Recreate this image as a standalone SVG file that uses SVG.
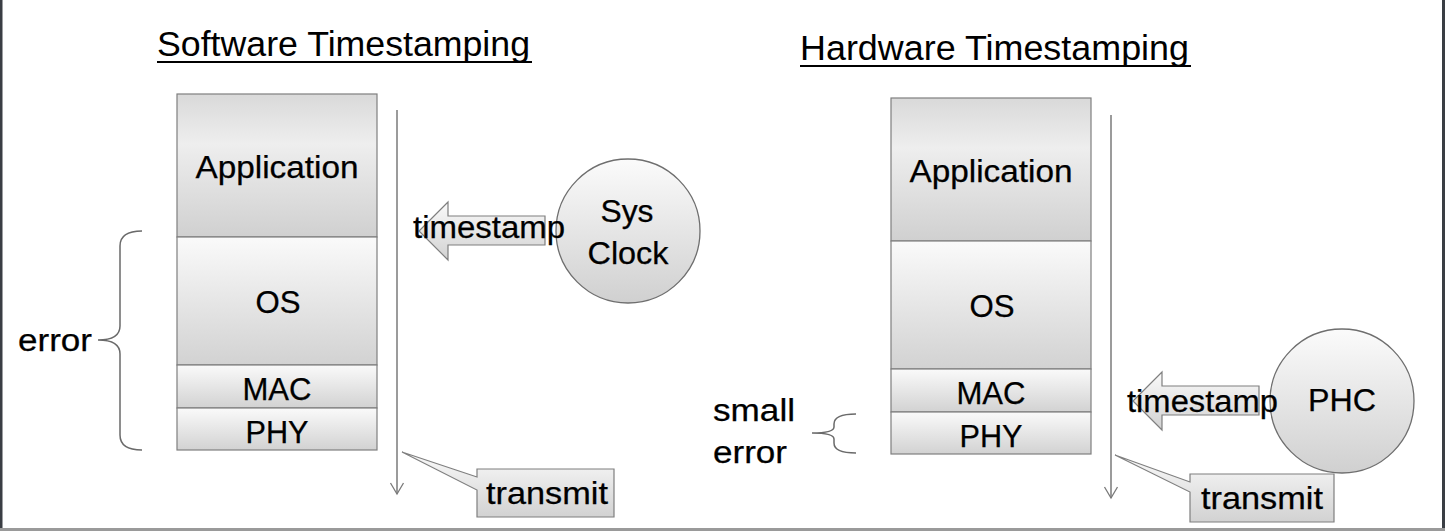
<svg xmlns="http://www.w3.org/2000/svg" width="1445" height="531" viewBox="0 0 1445 531">
<defs>
<linearGradient id="gBox" x1="0" y1="0" x2="0" y2="1">
<stop offset="0" stop-color="#fafafa"/>
<stop offset="1" stop-color="#d2d2d2"/>
</linearGradient>
<linearGradient id="gApp" x1="0" y1="0" x2="0" y2="1">
<stop offset="0" stop-color="#d9d9d9"/>
<stop offset="0.35" stop-color="#eeeeee"/>
<stop offset="1" stop-color="#d0d0d0"/>
</linearGradient>
<linearGradient id="gCirc" x1="0" y1="0" x2="0" y2="1">
<stop offset="0" stop-color="#fbfbfb"/>
<stop offset="1" stop-color="#d0d0d0"/>
</linearGradient>
<marker id="openArrow" markerWidth="16" markerHeight="16" refX="14" refY="8" orient="auto" markerUnits="userSpaceOnUse" viewBox="0 0 16 16">
<path d="M3,1.5 L14,8 L3,14.5" fill="none" stroke="#7a7a7a" stroke-width="1.3"/>
</marker>
</defs>
<style>
.lbl{font-family:"Liberation Sans",Arial,sans-serif;font-size:31px;fill:#000;text-anchor:middle;stroke:#000;stroke-width:0.25}
.lft{text-anchor:start}
.ttl{font-family:"Liberation Sans",Arial,sans-serif;font-size:35.5px;fill:#000}
.box{stroke:#7f7f7f;stroke-width:1.2}
.line{stroke:#7a7a7a;stroke-width:1.5;fill:none}
.brace{stroke:#6a6a6a;stroke-width:1.5;fill:none}
</style>
<rect x="0" y="0" width="1445" height="531" fill="#fff"/>
<rect x="0" y="0" width="2.5" height="531" fill="#3a3e44"/>
<rect x="1442" y="0" width="3" height="531" fill="#3a3e44"/>
<rect x="0" y="528" width="1445" height="3" fill="#9a9a9a"/>

<g id="titles">
<text class="ttl" x="157" y="56" textLength="373" lengthAdjust="spacingAndGlyphs">Software Timestamping</text>
<rect x="157" y="61" width="375" height="2" fill="#000"/>
<text class="ttl" x="800" y="60" textLength="389" lengthAdjust="spacingAndGlyphs">Hardware Timestamping</text>
<rect x="800" y="65" width="391" height="2" fill="#000"/>
</g>

<g id="sw-stack">
<g id="sw-app"><rect class="box" x="177" y="94" width="200" height="143" fill="url(#gApp)"/><text class="lbl" x="277" y="178" textLength="163" lengthAdjust="spacingAndGlyphs">Application</text></g>
<g id="sw-os"><rect class="box" x="177" y="237" width="200" height="128" fill="url(#gBox)"/><text class="lbl" x="278" y="313" textLength="45" lengthAdjust="spacingAndGlyphs">OS</text></g>
<g id="sw-mac"><rect class="box" x="177" y="365" width="200" height="43" fill="url(#gBox)"/><text class="lbl" x="277" y="400" textLength="69" lengthAdjust="spacingAndGlyphs">MAC</text></g>
<g id="sw-phy"><rect class="box" x="177" y="408" width="200" height="42" fill="url(#gBox)"/><text class="lbl" x="277" y="443" textLength="63" lengthAdjust="spacingAndGlyphs">PHY</text></g>
</g>

<g id="hw-stack">
<g id="hw-app"><rect class="box" x="891" y="98" width="200" height="143" fill="url(#gApp)"/><text class="lbl" x="991" y="182" textLength="163" lengthAdjust="spacingAndGlyphs">Application</text></g>
<g id="hw-os"><rect class="box" x="891" y="241" width="200" height="128" fill="url(#gBox)"/><text class="lbl" x="992" y="317" textLength="45" lengthAdjust="spacingAndGlyphs">OS</text></g>
<g id="hw-mac"><rect class="box" x="891" y="369" width="200" height="43" fill="url(#gBox)"/><text class="lbl" x="991" y="404" textLength="69" lengthAdjust="spacingAndGlyphs">MAC</text></g>
<g id="hw-phy"><rect class="box" x="891" y="412" width="200" height="42" fill="url(#gBox)"/><text class="lbl" x="991" y="447" textLength="63" lengthAdjust="spacingAndGlyphs">PHY</text></g>
</g>

<g id="connectors">
<line class="line" x1="397" y1="110" x2="397" y2="494" marker-end="url(#openArrow)"/>
<line class="line" x1="1111" y1="115" x2="1111" y2="498" marker-end="url(#openArrow)"/>
<path class="brace" d="M142,231 Q120,231 120,246 L120,326 Q120,340 98,340 Q120,340 120,354 L120,435 Q120,450 142,450"/>
<path class="brace" d="M856,414 Q834,414 834,424 L834,427 Q834,433 812,433 Q834,433 834,439 L834,443 Q834,453 856,453"/>
</g>

<g id="sys-clock">
<circle cx="628" cy="231" r="72" fill="url(#gCirc)" stroke="#6e6e6e" stroke-width="1.3"/>
<text class="lbl" x="627" y="222" textLength="53" lengthAdjust="spacingAndGlyphs">Sys</text>
<text class="lbl" x="628" y="264" textLength="81" lengthAdjust="spacingAndGlyphs">Clock</text>
</g>
<g id="phc">
<circle cx="1342" cy="401" r="72" fill="url(#gCirc)" stroke="#6e6e6e" stroke-width="1.3"/>
<text class="lbl" x="1342" y="411" textLength="68" lengthAdjust="spacingAndGlyphs">PHC</text>
</g>

<g id="sw-timestamp">
<path d="M545,216 L448,216 L448,202 L419,231 L448,260 L448,245 L545,245 Z" fill="url(#gBox)" stroke="#7f7f7f" stroke-width="1.2"/>
<text class="lbl lft" x="413" y="238" textLength="152" lengthAdjust="spacingAndGlyphs">timestamp</text>
</g>
<g id="hw-timestamp">
<path d="M1259,386 L1162,386 L1162,372 L1133,401 L1162,430 L1162,415 L1259,415 Z" fill="url(#gBox)" stroke="#7f7f7f" stroke-width="1.2"/>
<text class="lbl lft" x="1127" y="412" textLength="151" lengthAdjust="spacingAndGlyphs">timestamp</text>
</g>

<g id="sw-transmit">
<path d="M477,469 L614,469 L614,517 L477,517 L477,490 L402,452 L477,477 Z" fill="url(#gBox)" stroke="#7f7f7f" stroke-width="1.2"/>
<text class="lbl lft" x="486" y="504" textLength="122" lengthAdjust="spacingAndGlyphs">transmit</text>
</g>
<g id="hw-transmit">
<path d="M1190,474 L1334,474 L1334,522 L1190,522 L1190,492 L1115,455 L1190,482 Z" fill="url(#gBox)" stroke="#7f7f7f" stroke-width="1.2"/>
<text class="lbl lft" x="1201" y="509" textLength="122" lengthAdjust="spacingAndGlyphs">transmit</text>
</g>

<g id="error-labels">
<text class="lbl lft" x="18" y="351" textLength="74" lengthAdjust="spacingAndGlyphs">error</text>
<text class="lbl lft" x="713" y="421" textLength="82" lengthAdjust="spacingAndGlyphs">small</text>
<text class="lbl lft" x="713" y="463" textLength="74" lengthAdjust="spacingAndGlyphs">error</text>
</g>
</svg>
